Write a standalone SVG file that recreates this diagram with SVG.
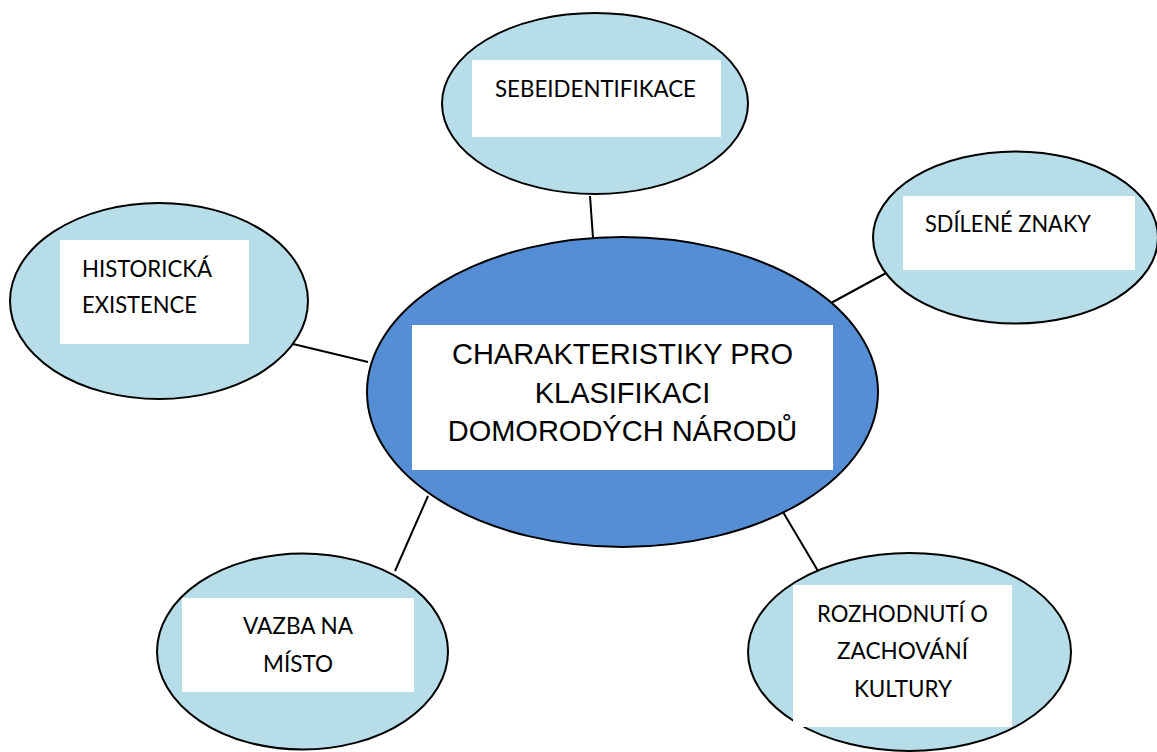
<svg xmlns="http://www.w3.org/2000/svg" width="1157" height="752" viewBox="0 0 1157 752">
<style>
.sat{fill:#b7dde8;stroke:#000;stroke-width:2}
.hub{fill:#558ed5;stroke:#000;stroke-width:2}
.box{fill:#fff}
.lbl{font-family:Lato,"Open Sans","Liberation Sans",sans-serif;font-size:23px;fill:#000}
.hubt{font-family:"Liberation Sans",Arial,sans-serif;font-size:29px;fill:#000;text-anchor:middle}
.con{stroke:#000;stroke-width:2;fill:none}
</style>
<rect width="1157" height="752" fill="#fff"/>
<g id="connectors">
<line class="con" x1="590" y1="196" x2="593" y2="238"/>
<line class="con" x1="831" y1="303" x2="888" y2="272"/>
<line class="con" x1="293" y1="344" x2="368" y2="362"/>
<line class="con" x1="428" y1="496" x2="395" y2="571"/>
<line class="con" x1="783" y1="512" x2="818" y2="571"/>
</g>
<g id="hub">
<ellipse class="hub" cx="622.5" cy="392" rx="255.5" ry="155"/>
<rect class="box" x="412" y="325" width="421" height="145"/>
<text class="hubt" x="622.5" y="364">CHARAKTERISTIKY PRO</text>
<text class="hubt" x="622.5" y="403">KLASIFIKACI</text>
<text class="hubt" x="622.5" y="441">DOMORODÝCH NÁRODŮ</text>
</g>
<g id="sebeidentifikace">
<ellipse class="sat" cx="595" cy="103.5" rx="153" ry="90.5"/>
<rect class="box" x="472" y="60" width="249" height="77"/>
<text class="lbl" x="495" y="97" textLength="201" lengthAdjust="spacingAndGlyphs">SEBEIDENTIFIKACE</text>
</g>
<g id="sdilene-znaky">
<ellipse class="sat" cx="1015.5" cy="237.5" rx="142.5" ry="86"/>
<rect class="box" x="903" y="196" width="232" height="74"/>
<text class="lbl" x="925" y="232" textLength="166" lengthAdjust="spacingAndGlyphs">SDÍLENÉ ZNAKY</text>
</g>
<g id="historicka-existence">
<ellipse class="sat" cx="159" cy="301" rx="149" ry="98"/>
<rect class="box" x="60" y="240" width="189" height="104"/>
<text class="lbl" x="82" y="277" textLength="130" lengthAdjust="spacingAndGlyphs">HISTORICKÁ</text>
<text class="lbl" x="82" y="313" textLength="115" lengthAdjust="spacingAndGlyphs">EXISTENCE</text>
</g>
<g id="vazba-na-misto">
<ellipse class="sat" cx="302.5" cy="651.5" rx="145.5" ry="98"/>
<rect class="box" x="182" y="598" width="232" height="94"/>
<text class="lbl" x="243" y="634" textLength="110" lengthAdjust="spacingAndGlyphs">VAZBA NA</text>
<text class="lbl" x="263" y="672" textLength="70" lengthAdjust="spacingAndGlyphs">MÍSTO</text>
</g>
<g id="rozhodnuti">
<ellipse class="sat" cx="909.5" cy="652" rx="161.5" ry="99"/>
<rect class="box" x="793" y="585" width="219" height="142"/>
<text class="lbl" x="817" y="622" textLength="171" lengthAdjust="spacingAndGlyphs">ROZHODNUTÍ O</text>
<text class="lbl" x="837" y="659" textLength="131" lengthAdjust="spacingAndGlyphs">ZACHOVÁNÍ</text>
<text class="lbl" x="854" y="697" textLength="98" lengthAdjust="spacingAndGlyphs">KULTURY</text>
</g>
</svg>
